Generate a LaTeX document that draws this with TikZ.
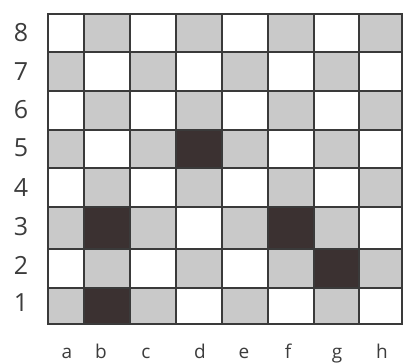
\documentclass[tikz,border=0pt]{standalone}
\usepackage{fontspec}
\setmainfont{Open Sans}
\definecolor{sqgray}{HTML}{C9C9C9}
\definecolor{sqdark}{HTML}{3B3131}
\definecolor{gridline}{HTML}{3A3A3A}
\definecolor{labelcol}{HTML}{3C3C3C}
\begin{document}
\begin{tikzpicture}[x=1pt,y=-1pt,
  rankstyle/.style={font=\fontsize{25}{25}\selectfont, text=labelcol, inner sep=0pt, anchor=center},
  filestyle/.style={font=\fontsize{19}{19}\selectfont, text=labelcol, inner sep=0pt, anchor=base},
  gridstyle/.style={draw=gridline, line width=2.3pt, line cap=rect}]
\useasboundingbox (0,0) rectangle (404,363);
\def\xe{{48,84,130,176,222,268,314,359,402}}
\def\ye{{14,52,91,130,168,207,249,288,324}}
% squares
\foreach \i in {0,...,7}{
  \foreach \j in {0,...,7}{
    \pgfmathsetmacro\xa{\xe[\i]}
    \pgfmathsetmacro\xb{\xe[\i+1]}
    \pgfmathsetmacro\ya{\ye[\j]}
    \pgfmathsetmacro\yb{\ye[\j+1]}
    \pgfmathtruncatemacro\p{mod(\i+9-\j,2)}
    \ifnum\p=0
      \fill[sqgray] (\xa,\ya) rectangle (\xb,\yb);
    \fi
  }
}
% dark squares: d5, b3, f3, g2, b1
\foreach \i/\j in {3/3,1/5,5/5,6/6,1/7}{
    \pgfmathsetmacro\xa{\xe[\i]}
    \pgfmathsetmacro\xb{\xe[\i+1]}
    \pgfmathsetmacro\ya{\ye[\j]}
    \pgfmathsetmacro\yb{\ye[\j+1]}
    \fill[sqdark] (\xa,\ya) rectangle (\xb,\yb);
}
% grid lines
\foreach \k in {0,...,8}{
  \pgfmathsetmacro\xx{\xe[\k]}
  \pgfmathsetmacro\yy{\ye[\k]}
  \draw[gridstyle] (\xx,14) -- (\xx,324);
  \draw[gridstyle] (48,\yy) -- (402,\yy);
}
% rank labels
\foreach \r/\y in {8/33,7/72,6/110,5/148,4/188,3/227,2/265,1/303}{
  \node[rankstyle] (rank\r) at (21,\y) {\r};
}
% file labels
\foreach \f/\x in {a/67,b/101,c/146,d/200,e/244,f/288,g/337,h/382}{
  \node[filestyle] (file\f) at (\x,358) {\f};
}
\end{tikzpicture}
\end{document}
